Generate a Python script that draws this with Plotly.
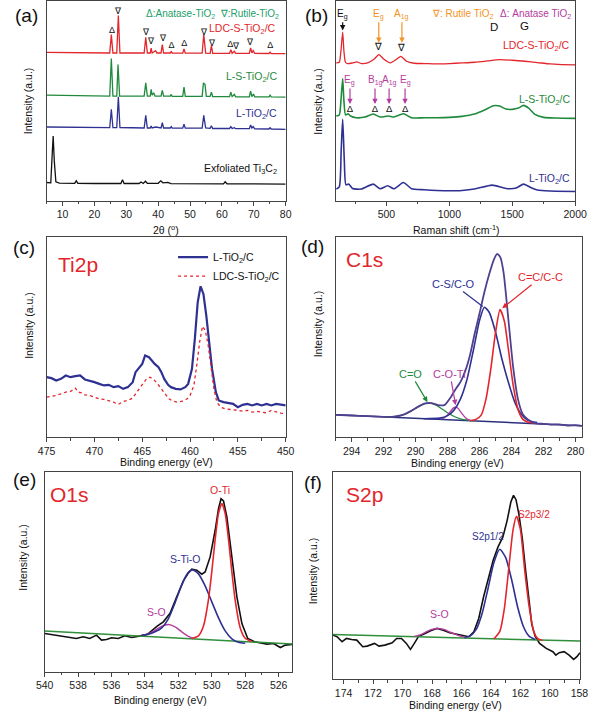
import plotly.graph_objects as go

W, H = 600, 713
FONT = "Liberation Sans, Arial, sans-serif"

RED = "#e3262c"
GREEN = "#1f8a3c"
BLUE = "#2e3192"
BLACK = "#111111"
ORANGE = "#f39324"
MAGENTA = "#b43c9e"
HEADER_GREEN = "#22a06a"
ENV = "#51408f"
BASE_GREEN = "#2f8f3a"

# ---------------- (a) XRD ----------------
xrd_ti3c2_x = [5, 6.3, 6.8, 7.05, 7.4, 7.9, 9, 13.8, 14.3, 14.8, 20, 28.3, 28.8, 29.3, 34, 34.6, 35.3, 36.0, 36.6, 40.0, 40.8, 41.5, 43.0, 44.0, 60.5, 61.0, 61.6, 80]
xrd_ti3c2_y = [18.3, 18, 50, 65, 40, 19, 17.7, 17.5, 20, 17.5, 17.3, 17.3, 21, 17.3, 17.3, 18.8, 17.3, 19.5, 17.5, 17.5, 20, 18, 18.5, 17.2, 17, 19, 17, 16.7]

xrd_l_x = [5, 24.8, 25.3, 25.8, 27.0, 27.5, 28.0, 35.6, 36.1, 36.6, 37.5, 37.8, 38.1, 39.2, 40.9, 41.3, 41.7, 43.8, 44.1, 44.4, 47.7, 48.1, 48.5, 53.8, 54.3, 54.9, 56.3, 56.7, 57.1, 62.4, 62.8, 63.2, 63.9, 64.3, 68.6, 69.0, 69.4, 69.8, 70.3, 74.8, 75.1, 75.5, 80]
xrd_l_y = [74, 73.3, 91.7, 73.3, 73.3, 104.3, 73.5, 73, 85.7, 73, 73, 75, 73, 74, 73, 78.3, 73, 73, 74.3, 72.8, 72.8, 76.7, 72.8, 72.8, 85.7, 73, 72.7, 75.3, 72.5, 72.5, 74.3, 72.5, 73.3, 72.3, 72.3, 76, 73, 74.5, 72.2, 72, 73.3, 72, 71.7]

xrd_ls_x = [5, 24.8, 25.3, 25.8, 27.0, 27.4, 27.9, 35.6, 36.1, 36.6, 37.5, 37.8, 38.1, 38.6, 39.0, 40.9, 41.3, 41.7, 43.8, 44.1, 44.4, 47.7, 48.1, 48.5, 53.8, 54.2, 54.7, 55.1, 56.3, 56.7, 57.1, 62.4, 62.8, 63.2, 63.9, 64.3, 68.6, 69.0, 69.4, 69.9, 70.3, 74.8, 75.1, 75.5, 80]
xrd_ls_y = [106, 105, 142.7, 105, 105, 136.7, 105, 105, 118.3, 105, 105, 111.7, 106, 108.3, 105, 105, 110.7, 105, 105, 106.7, 104.7, 104.7, 114, 104.7, 104.7, 118.3, 116.7, 104.7, 104.7, 109, 104.5, 104.5, 109, 104.5, 106.7, 104.3, 104.3, 110, 104.5, 107, 104.3, 104.3, 106, 104.2, 104]

xrd_ldc_x = [5, 24.8, 25.3, 25.8, 27.0, 27.5, 28.0, 35.6, 36.1, 36.6, 37.5, 37.8, 38.1, 39.2, 39.6, 40.9, 41.3, 41.7, 43.8, 44.1, 44.4, 47.7, 48.1, 48.5, 53.8, 54.3, 54.9, 56.3, 56.7, 57.1, 62.4, 62.8, 63.2, 63.9, 64.3, 68.6, 69.0, 69.4, 69.8, 70.3, 74.8, 75.1, 75.5, 80]
xrd_ldc_y = [149, 148.3, 166.7, 148.3, 148.3, 186, 148.3, 148.3, 164, 148.3, 148.3, 153.3, 148.3, 150.7, 148.3, 148.3, 156.7, 148.3, 148.3, 150, 148.2, 148.2, 152.3, 148.2, 148.2, 166.7, 148.2, 148, 155.7, 148, 148, 151.7, 148, 150, 148, 148, 153.3, 148.5, 150.7, 148, 147.8, 149.3, 147.7, 147.7]

xrd_mark_x = [25.5, 27.5, 36.2, 37.8, 41.4, 44.2, 48.2, 54.3, 56.8, 62.6, 64.4, 68.9, 75.2]
xrd_mark_y = [170.7, 190, 168.3, 160, 162.7, 156, 157.3, 168.3, 157.3, 156.7, 155, 158.3, 155.7]
xrd_mark_sym = ["Δ", "∇", "∇", "∇", "∇", "Δ", "Δ", "∇", "∇", "Δ", "∇", "∇", "Δ"]

# ---------------- (b) Raman ----------------
raman_ldc_x = [100, 125, 138, 152, 162, 174, 190, 230, 265, 300, 350, 400, 440, 480, 530, 580, 615, 660, 720, 800, 900, 1000, 1100, 1200, 1300, 1400, 1500, 1600, 1700, 1800, 1900, 2000]
raman_ldc_y = [138.3, 139, 150, 169.3, 150, 139, 137.7, 138.3, 139.3, 137.7, 138.3, 142, 146.7, 142, 138.3, 142, 145, 140, 138, 137.7, 137.3, 137.7, 138.3, 139, 140.3, 141.7, 141, 140, 138.7, 137.3, 136.7, 136.3]

raman_ls_x = [100, 125, 138, 152, 162, 175, 195, 215, 260, 330, 395, 450, 515, 560, 635, 700, 800, 900, 1000, 1100, 1200, 1280, 1350, 1400, 1450, 1500, 1550, 1590, 1630, 1680, 1750, 1850, 2000]
raman_ls_y = [85, 86, 100, 122.7, 100, 86, 87.3, 85, 83.3, 84, 87, 84, 85, 84, 87.3, 83.3, 83.3, 83.3, 83.7, 84.7, 87, 91, 95.3, 95, 92, 91.7, 93, 95.7, 93, 86.7, 83.7, 83, 82.7]

raman_l_x = [100, 125, 140, 152, 165, 178, 200, 230, 300, 395, 450, 510, 560, 635, 700, 800, 900, 1000, 1100, 1200, 1340, 1450, 1530, 1590, 1650, 1700, 1800, 2000]
raman_l_y = [11.7, 14, 50, 81.7, 40, 16, 16.7, 12.3, 11.7, 16.7, 12, 15, 12, 18.3, 12, 11, 10.3, 10, 10.3, 11.7, 15.7, 12.3, 12.7, 16.7, 13, 10.7, 9.7, 9.3]

raman_mark_x = [439, 623, 210, 409, 521, 648]
raman_mark_y = [153.3, 152.3, 91.7, 91.7, 91.7, 91.7]
raman_mark_sym = ["∇", "∇", "Δ", "Δ", "Δ", "Δ"]

raman_mode_lbl = ["E<sub>g</sub>", "E<sub>g</sub>", "A<sub>1g</sub>", "E<sub>g</sub>", "B<sub>1g</sub>", "A<sub>1g</sub>", "E<sub>g</sub>"]
raman_mode_x = [152, 439, 623, 210, 409, 521, 648]
raman_mode_ytext = [187.3, 187.3, 187.3, 120.7, 120.7, 120.7, 120.7]
raman_mode_yhead = [171, 158.5, 158.5, 97, 97, 97, 97]
raman_mode_col = [BLACK, ORANGE, ORANGE, MAGENTA, MAGENTA, MAGENTA, MAGENTA]

# ---------------- (c) Ti2p ----------------
ti_l_x = [475, 474.5, 474, 473.5, 473, 472.5, 472, 471.5, 471, 470.5, 470, 469.5, 469, 468.5, 468, 467.5, 467, 466.5, 466, 465.7, 465.3, 465, 464.7, 464.3, 464, 463.7, 463.3, 463, 462.7, 462.3, 462, 461.5, 461, 460.5, 460.2, 459.8, 459.5, 459.2, 458.9, 458.6, 458.3, 458, 457.7, 457.3, 457, 456.5, 456, 455.5, 455, 454.5, 454, 453.5, 453, 452.5, 452, 451.5, 451, 450.5, 450]
ti_l_y = [60, 59, 56.7, 58.3, 61.7, 60, 61, 61.7, 57.7, 56.7, 55, 53.3, 51.7, 52.3, 50, 51, 48.3, 50, 55, 65, 70, 73.3, 81.7, 80, 76.7, 73.3, 70, 65, 58.3, 52.3, 50, 48.3, 47.7, 50, 53.3, 68.3, 98.3, 135, 151, 143.3, 121.7, 95, 68.3, 45, 36.7, 35, 34.3, 33.3, 30, 32.3, 33.3, 31.7, 33.3, 31.7, 33.3, 31.7, 33.3, 32.3, 31.7]

ti_ldc_x = [475, 474.5, 474, 473.5, 473, 472.5, 472, 471.7, 471.3, 471, 470.5, 470, 469.5, 469, 468.5, 468, 467.5, 467, 466.5, 466, 465.7, 465.3, 465, 464.6, 464.2, 463.8, 463.4, 463, 462.6, 462.2, 461.8, 461.3, 460.8, 460.3, 460, 459.6, 459.3, 459, 458.7, 458.4, 458.1, 457.8, 457.5, 457.2, 456.8, 456.3, 455.5, 455, 454.5, 454, 453.5, 453, 452.5, 452, 451.5, 451, 450.5, 450]
ti_ldc_y = [40, 40.7, 41.7, 43.3, 45, 45.7, 49, 45, 44.3, 42.3, 41.7, 40, 38.3, 37.7, 36.7, 35, 32.7, 35.7, 36.7, 39, 43.3, 49, 53.3, 57.7, 60, 57.7, 53.3, 48.3, 42.3, 38.3, 36, 35, 36, 38.3, 41.7, 51.7, 71.7, 95, 111, 106.7, 91.7, 68.3, 48.3, 35, 30, 28.3, 27.7, 26.7, 26, 26.7, 25, 25.7, 25, 24.3, 26.7, 25, 24, 23.3]

# ---------------- (d) C1s ----------------
c1s_env_x = [295, 294, 293, 292.3, 291.8, 291.3, 290.8, 290.3, 289.8, 289.4, 289.0, 288.6, 288.2, 287.8, 287.5, 287.2, 286.9, 286.6, 286.3, 286.0, 285.7, 285.4, 285.1, 284.9, 284.7, 284.5, 284.2, 283.9, 283.6, 283.3, 283.0, 282.6, 282.0, 281.5, 281.0, 280.5, 280.0, 279.6]
c1s_env_y = [22.3, 21.6, 20.9, 20.4, 20.2, 20.6, 22.2, 26, 30.8, 33.7, 34, 32.1, 32, 40, 48, 55, 66, 82, 104, 124, 145, 163, 178, 183.5, 180, 165, 118, 70, 38, 23, 18, 14.3, 13.2, 12.5, 12.8, 11.5, 12, 11.2]
c1s_base_x = [295, 279.6]
c1s_base_y = [22.3, 11.4]
c1s_blue_x = [289.5, 288.5, 288.0, 287.6, 287.2, 286.8, 286.4, 286.0, 285.7, 285.4, 285.0, 284.6, 284.2, 283.8, 283.4, 283.0, 282.4]
c1s_blue_y = [18.4, 19.0, 21.5, 27, 38, 57, 86, 117, 130, 125, 105, 78, 55, 35, 23, 17, 14.5]
c1s_red_x = [286.6, 286.2, 285.9, 285.6, 285.3, 285.0, 284.72, 284.45, 284.2, 283.9, 283.6, 283.3, 283.0, 282.6]
c1s_red_y = [16.4, 18, 22, 38, 68, 105, 127.6, 116, 88, 52, 28, 18, 15, 14]
c1s_green_x = [291.95, 291.55, 291.15, 290.75, 290.35, 289.95, 289.55, 289.15, 288.75, 288.35, 287.95, 287.55, 287.15, 286.75, 286.35]
c1s_green_y = [20.2, 20.3, 20.9, 22.6, 25.5, 29.3, 32.7, 34, 32.2, 28.2, 23.9, 20.4, 18.1, 17, 16.3]
c1s_mag_x = [288.4, 288.25, 288.1, 287.95, 287.8, 287.65, 287.5, 287.35, 287.2, 287.05, 286.9, 286.75, 286.6]
c1s_mag_y = [18.2, 18.9, 20.5, 23.1, 26.2, 29, 30, 28.8, 25.8, 22.4, 19.6, 17.8, 16.9]

# ---------------- (e) O1s ----------------
o1s_raw_x = [540, 539.6, 539.2, 538.8, 538.5, 538.1, 537.7, 537.3, 536.9, 536.6, 536.3, 536.0, 535.6, 535.2, 534.8, 534.4, 534.0, 533.8, 533.5, 533.25, 532.9, 532.5, 532.1, 531.7, 531.4, 531.2, 530.9, 530.6, 530.4, 530.1, 529.8, 529.6, 529.45, 529.3, 529.1, 528.8, 528.5, 528.2, 527.85, 527.45, 527.1, 526.7, 526.3, 525.9, 525.6, 525.2]
o1s_raw_y = [38.3, 37.3, 36.7, 35.7, 35, 33.3, 35, 33.3, 36.7, 31.7, 32.3, 34, 33.3, 36, 34.3, 35.7, 36.7, 38.3, 43, 46, 50, 58.5, 75, 91, 99, 102.7, 101.7, 97.7, 100, 115, 141.7, 163.3, 173.3, 171, 155, 115, 75, 48.3, 33.3, 30, 29, 27.7, 28.3, 24.3, 26.7, 27.3]
o1s_base_x = [540, 525.2]
o1s_base_y = [40.7, 27.7]
o1s_red_x = [531.2, 530.8, 530.5, 530.2, 530.0, 529.8, 529.6, 529.4, 529.2, 529.0, 528.8, 528.6, 528.3, 528.0, 527.6]
o1s_red_y = [33.3, 36, 45.8, 72.2, 100.5, 132.5, 158.6, 168.5, 158.3, 132.2, 100, 71.4, 43.9, 33.5, 30.2]
o1s_blue_x = [534.2, 533.8, 533.4, 533.0, 532.6, 532.2, 531.8, 531.45, 531.15, 530.8, 530.4, 530.0, 529.6, 529.2, 528.8, 528.4, 528.0]
o1s_blue_y = [36.5, 37.5, 40, 44, 53, 69, 87, 98.5, 102, 98, 86, 70, 54, 41, 33, 29.5, 28.5]
o1s_mag_x = [534.2, 533.8, 533.4, 533.0, 532.6, 532.2, 531.8, 531.4, 531.1]
o1s_mag_y = [36.5, 38, 41.5, 45.5, 47.3, 45, 40, 35.5, 33.5]

# ---------------- (f) S2p ----------------
s2p_raw_x = [174.72, 174.44, 174.1, 173.8, 173.45, 173.1, 172.7, 172.4, 171.9, 171.6, 171.2, 170.7, 170.4, 170.07, 169.74, 169.46, 169.2, 168.9, 168.54, 168.1, 167.67, 167.23, 166.8, 166.36, 165.92, 165.5, 165.16, 164.83, 164.5, 164.17, 163.85, 163.52, 163.19, 162.9, 162.65, 162.47, 162.3, 162.1, 161.88, 161.67, 161.45, 161.23, 161.0, 160.7, 160.25, 159.8, 159.6, 159.37, 159.04, 158.7, 158.39, 158.17, 157.96]
s2p_raw_y = [44.3, 42.7, 37.7, 41, 40, 39.3, 32.7, 33.3, 36, 33.3, 34.3, 36.7, 41, 41, 36, 30, 36, 43.3, 45.3, 48.7, 51, 49.3, 46.7, 45.3, 43.7, 42.7, 47.7, 61, 82.7, 102.7, 119.3, 132.7, 142.7, 159.3, 177.7, 184.3, 180, 165, 142, 112, 80, 55, 43, 36, 31, 27.7, 24.3, 26.7, 27.7, 24.3, 20, 22.7, 26.7]
s2p_base_x = [174.72, 157.96]
s2p_base_y = [45, 38.3]
s2p_blue_x = [165.8, 165.4, 165.0, 164.6, 164.2, 163.8, 163.4, 163.0, 162.6, 162.2, 161.8, 161.4, 161.0]
s2p_blue_y = [41.7, 43.5, 50, 66, 91, 117, 130.3, 122, 100, 73, 53, 43, 40]
s2p_red_x = [163.8, 163.4, 163.1, 162.8, 162.5, 162.27, 162.0, 161.7, 161.4, 161.1, 160.8, 160.5]
s2p_red_y = [40.5, 48, 70, 110, 150, 163.3, 150, 108, 72, 48, 40.5, 39]
s2p_mag_x = [169.2, 168.8, 168.4, 168.0, 167.6, 167.2, 166.8, 166.4, 166.0, 165.7]
s2p_mag_y = [43, 44.5, 47.5, 50, 51, 50, 47.5, 45, 43, 42]


def px(x):
    return x / W


def py(y):
    return 1 - y / H


fig = go.Figure()


def line(x, y, ax, color, width=1.5, shape="linear", dash="solid", name=None, legend=False):
    fig.add_trace(go.Scatter(
        x=x, y=y, mode="lines", xaxis=ax[0], yaxis=ax[1],
        line=dict(color=color, width=width, shape=shape, dash=dash, smoothing=0.6),
        name=name, showlegend=legend, hoverinfo="skip"))


def marks(x, y, sym, ax, size=10):
    fig.add_trace(go.Scatter(
        x=x, y=y, mode="text", text=sym, xaxis=ax[0], yaxis=ax[1],
        textfont=dict(family=FONT, size=size, color=BLACK),
        showlegend=False, hoverinfo="skip"))


A = ("x", "y")
B = ("x2", "y2")
C = ("x3", "y3")
D = ("x4", "y4")
E = ("x5", "y5")
F = ("x6", "y6")

# (a)
line(xrd_ti3c2_x, xrd_ti3c2_y, A, BLACK, 1.3)
line(xrd_l_x, xrd_l_y, A, BLUE, 1.3)
line(xrd_ls_x, xrd_ls_y, A, GREEN, 1.3)
line(xrd_ldc_x, xrd_ldc_y, A, RED, 1.3)
marks(xrd_mark_x, xrd_mark_y, xrd_mark_sym, A, 9)

# (b)
line(raman_l_x, raman_l_y, B, BLUE, 1.6, "spline")
line(raman_ls_x, raman_ls_y, B, GREEN, 1.6, "spline")
line(raman_ldc_x, raman_ldc_y, B, RED, 1.3, "spline")
marks(raman_mark_x, raman_mark_y, raman_mark_sym, B, 9.5)

# (c)
line(ti_l_x, ti_l_y, C, BLUE, 2.2, name="L-TiO<sub>2</sub>/C", legend=True)
line(ti_ldc_x, ti_ldc_y, C, RED, 1.3, dash="dot", name="LDC-S-TiO<sub>2</sub>/C", legend=True)

# (d)
line(c1s_base_x, c1s_base_y, D, "#2b2f7f", 1.5)
line(c1s_green_x, c1s_green_y, D, GREEN, 1.3, "spline")
line(c1s_mag_x, c1s_mag_y, D, MAGENTA, 1.3, "spline")
line(c1s_blue_x, c1s_blue_y, D, BLUE, 1.6, "spline")
line(c1s_red_x, c1s_red_y, D, RED, 1.6, "spline")
line(c1s_env_x, c1s_env_y, D, ENV, 1.8, "spline")

# (e)
line(o1s_raw_x, o1s_raw_y, E, BLACK, 1.6)
line(o1s_base_x, o1s_base_y, E, BASE_GREEN, 1.5)
line(o1s_mag_x, o1s_mag_y, E, MAGENTA, 1.4, "spline")
line(o1s_blue_x, o1s_blue_y, E, BLUE, 1.6, "spline")
line(o1s_red_x, o1s_red_y, E, RED, 1.6, "spline")

# (f)
line(s2p_raw_x, s2p_raw_y, F, BLACK, 1.6)
line(s2p_base_x, s2p_base_y, F, BASE_GREEN, 1.5)
line(s2p_mag_x, s2p_mag_y, F, MAGENTA, 1.4, "spline")
line(s2p_blue_x, s2p_blue_y, F, BLUE, 1.6, "spline")
line(s2p_red_x, s2p_red_y, F, RED, 1.6, "spline")

tickfont = dict(family=FONT, size=10.5, color="#222")


def xax(dom, rng, dtick, tick0, mdtick, anchor):
    return dict(domain=[px(dom[0]), px(dom[1])], range=rng, tickmode="linear", dtick=dtick, tick0=tick0,
                ticks="outside", ticklen=4, tickwidth=1, tickcolor="#444", showline=True,
                linecolor="#444", linewidth=1, mirror=True, showgrid=False, zeroline=False,
                tickfont=tickfont, anchor=anchor,
                minor=dict(dtick=mdtick, tick0=tick0, ticks="outside", ticklen=2.5, tickcolor="#444", showgrid=False))


def yax(top, bottom, rng, anchor):
    return dict(domain=[py(bottom), py(top)], range=rng, showticklabels=False, ticks="",
                showline=True, linecolor="#444", linewidth=1, mirror=True, showgrid=False,
                zeroline=False, anchor=anchor)


fig.update_layout(
    xaxis=xax((39, 286.7), [5, 80], 10, 0, 5, "y"),
    yaxis=yax(0.5, 200, [0, 200], "x"),
    xaxis2=xax((339, 586.7), [100, 2000], 500, 0, 250, "y2"),
    yaxis2=yax(0.5, 200, [0, 200], "x2"),
    xaxis3=xax((39, 286.7), [475, 450], 5, 450, 2.5, "y3"),
    yaxis3=yax(236.7, 436.7, [0, 200], "x3"),
    xaxis4=xax((338.5, 593.7), [295, 279.6], 2, 280, 1, "y4"),
    yaxis4=yax(236.7, 436.7, [0, 200], "x4"),
    xaxis5=xax((37, 293.3), [540, 525.2], 2, 526, 1, "y5"),
    yaxis5=yax(471.7, 671.7, [0, 200], "x5"),
    xaxis6=xax((335.7, 591.7), [174.72, 157.96], 2, 158, 1, "y6"),
    yaxis6=yax(471.7, 679.3, [0, 207.7], "x6"),
)

ann = []


def ptext(x, y, text, size=11, color=BLACK, xanchor="center", angle=0):
    ann.append(dict(x=px(x), y=py(y), xref="paper", yref="paper", text=text, showarrow=False,
                    xanchor=xanchor, yanchor="middle", textangle=angle,
                    font=dict(family=FONT, size=size, color=color)))


def dtext(x, y, ax, text, size=11, color=BLACK):
    ann.append(dict(x=x, y=y, xref=ax[0], yref=ax[1], text=text, showarrow=False,
                    xanchor="center", yanchor="middle", font=dict(family=FONT, size=size, color=color)))


def darrow(xh, yh, xt, yt, ax, text, color, size=11, head=2):
    ann.append(dict(x=xh, y=yh, ax=xt, ay=yt, xref=ax[0], yref=ax[1], axref=ax[0], ayref=ax[1],
                    text=text, showarrow=True, arrowhead=head, arrowsize=0.9, arrowwidth=1.2,
                    arrowcolor=color, font=dict(family=FONT, size=size, color=color)))


# panel labels
for lbl, x, y in [("(a)", 18, 15), ("(b)", 319, 15), ("(c)", 16, 247), ("(d)", 315, 246), ("(e)", 16, 479), ("(f)", 315, 482)]:
    ptext(x, y, lbl, 19)

# axis titles
for x, y in [(20, 100), (320, 100), (20, 325), (320, 323), (15, 557), (315, 570)]:
    ptext(x, y, "Intensity (a.u.)", 10.5, angle=-90)
ptext(163, 229, "2θ (<sup>o</sup>)", 10.5)
ptext(463, 229, "Raman shift (cm<sup>-1</sup>)", 10.5)
ptext(163, 462, "Binding energy (eV)", 10.5)
ptext(465, 463, "Binding energy (eV)", 10.5)
ptext(157, 700, "Binding energy (eV)", 10.5)
ptext(463, 705, "Binding energy (eV)", 10.5)

# (a) texts
ptext(211, 13, "Δ:Anatase-TiO<sub>2</sub>  ∇:Rutile-TiO<sub>2</sub>", 10, HEADER_GREEN)
ptext(279, 28, "LDC-S-TiO<sub>2</sub>/C", 10.5, RED, "right")
ptext(280, 76, "L-S-TiO<sub>2</sub>/C", 10.5, GREEN, "right")
ptext(280, 113, "L-TiO<sub>2</sub>/C", 10.5, BLUE, "right")
ptext(280, 168, "Exfoliated Ti<sub>3</sub>C<sub>2</sub>", 10.5, BLACK, "right")

# (b) texts
ptext(470, 13, "∇: Rutile TiO<sub>2</sub>", 10, ORANGE)
ptext(546, 13, "Δ: Anatase TiO<sub>2</sub>", 10, MAGENTA)
dtext(1358, 174, B, "D", 11.5)
dtext(1600, 175, B, "G", 11.5)
ptext(583, 45, "LDC-S-TiO<sub>2</sub>/C", 10.5, RED, "right")
ptext(583, 99, "L-S-TiO<sub>2</sub>/C", 10.5, GREEN, "right")
ptext(583, 178, "L-TiO<sub>2</sub>/C", 10.5, BLUE, "right")
for lbl, x, yt, yh, col in zip(raman_mode_lbl, raman_mode_x, raman_mode_ytext, raman_mode_yhead, raman_mode_col):
    darrow(x, yh, x, yt, B, lbl, col, 10)

# (c)
dtext(471.7, 173.3, C, "Ti2p", 21, RED)

# (d)
dtext(293.2, 177.7, D, "C1s", 21, RED)
darrow(285.8, 130.7, 287.65, 153.3, D, "C-S/C-O", BLUE, 11, head=0)
darrow(284.58, 129, 282.16, 160, D, "C=C/C-C", RED, 11)
darrow(289.26, 35, 290.3, 63.3, D, "C=O", GREEN, 11)
darrow(287.5, 32, 287.85, 63.3, D, "C-O-Ti", MAGENTA, 11)

# (e)
dtext(538.5, 177.7, E, "O1s", 21, RED)
dtext(529.5, 181.7, E, "O-Ti", 10.5, RED)
dtext(531.6, 113.3, E, "S-Ti-O", 10.5, BLUE)
dtext(533.3, 60, E, "S-O", 10.5, MAGENTA)

# (f)
dtext(172.58, 185.3, F, "S2p", 21, RED)
dtext(164.22, 142.7, F, "S2p1/2", 10, BLUE)
dtext(161.07, 165.3, F, "S2p3/2", 10, RED)
dtext(167.5, 65.3, F, "S-O", 10.5, MAGENTA)

fig.update_layout(
    width=W, height=H, margin=dict(l=0, r=0, t=0, b=0),
    paper_bgcolor="white", plot_bgcolor="white",
    font=dict(family=FONT, size=11, color=BLACK),
    annotations=ann,
    legend=dict(x=px(170), y=py(242), xanchor="left", yanchor="top", bgcolor="rgba(0,0,0,0)",
                font=dict(family=FONT, size=10.5, color=BLACK), itemwidth=30, tracegroupgap=0),
)

# the page's default 8px body margin would shift the 600x713 figure; remove it
fig.write_html("out.html", config={"displayModeBar": False},
               post_script="document.body.style.margin='0';document.body.style.overflow='hidden';")
